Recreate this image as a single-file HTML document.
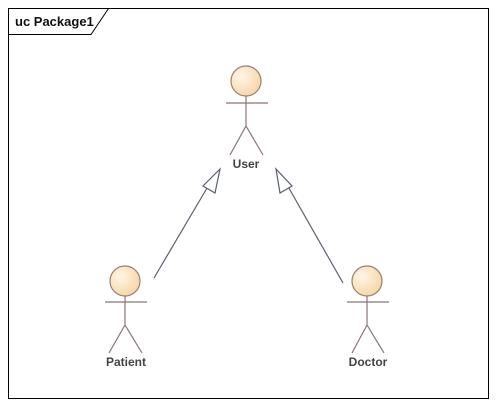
<!DOCTYPE html>
<html><head><style>body{margin:0;background:#fff}svg{display:block}text{font-family:"Liberation Sans",sans-serif;font-weight:bold;fill:#444}</style></head>
<body><svg width="497" height="406" xmlns="http://www.w3.org/2000/svg">
<defs><radialGradient id="g" cx="0.35" cy="0.35" r="0.7"><stop offset="0" stop-color="#fff5e6"/><stop offset="1" stop-color="#f6d6a8"/></radialGradient></defs>
<rect x="8.5" y="8.5" width="480" height="390" fill="#fff" stroke="#000"/>
<path d="M8.5 34.5 H91 L108.5 8.5" fill="none" stroke="#000"/>
<text x="15" y="26" font-size="13" fill="#000" style="fill:#111">uc Package1</text>
<g stroke="#8a7575" stroke-width="1.2" fill="none">
<circle cx="246" cy="81" r="15" fill="url(#g)" stroke="#9a8070"/>
<path d="M226 103H268M246 96V126L230 155M246 126L263 155"/>
<circle cx="125" cy="281" r="15" fill="url(#g)" stroke="#9a8070"/>
<path d="M105 302H147M125 296V325L109 353M125 325L142 353"/>
<circle cx="367" cy="281" r="15" fill="url(#g)" stroke="#9a8070"/>
<path d="M347 302H389M367 296V325L352 353M367 325L384 353"/>
</g>
<g stroke="#5a6070" stroke-width="1.2" fill="#fff">
<path d="M154 278L210 183"/>
<path d="M220 169L203 186L215 193Z"/>
<path d="M343 283L286 183"/>
<path d="M276 169L280 193L292 186Z"/>
</g>
<text x="246" y="168" font-size="12" text-anchor="middle">User</text>
<text x="126" y="366" font-size="12" text-anchor="middle">Patient</text>
<text x="368" y="366" font-size="12" text-anchor="middle">Doctor</text>
</svg></body></html>
